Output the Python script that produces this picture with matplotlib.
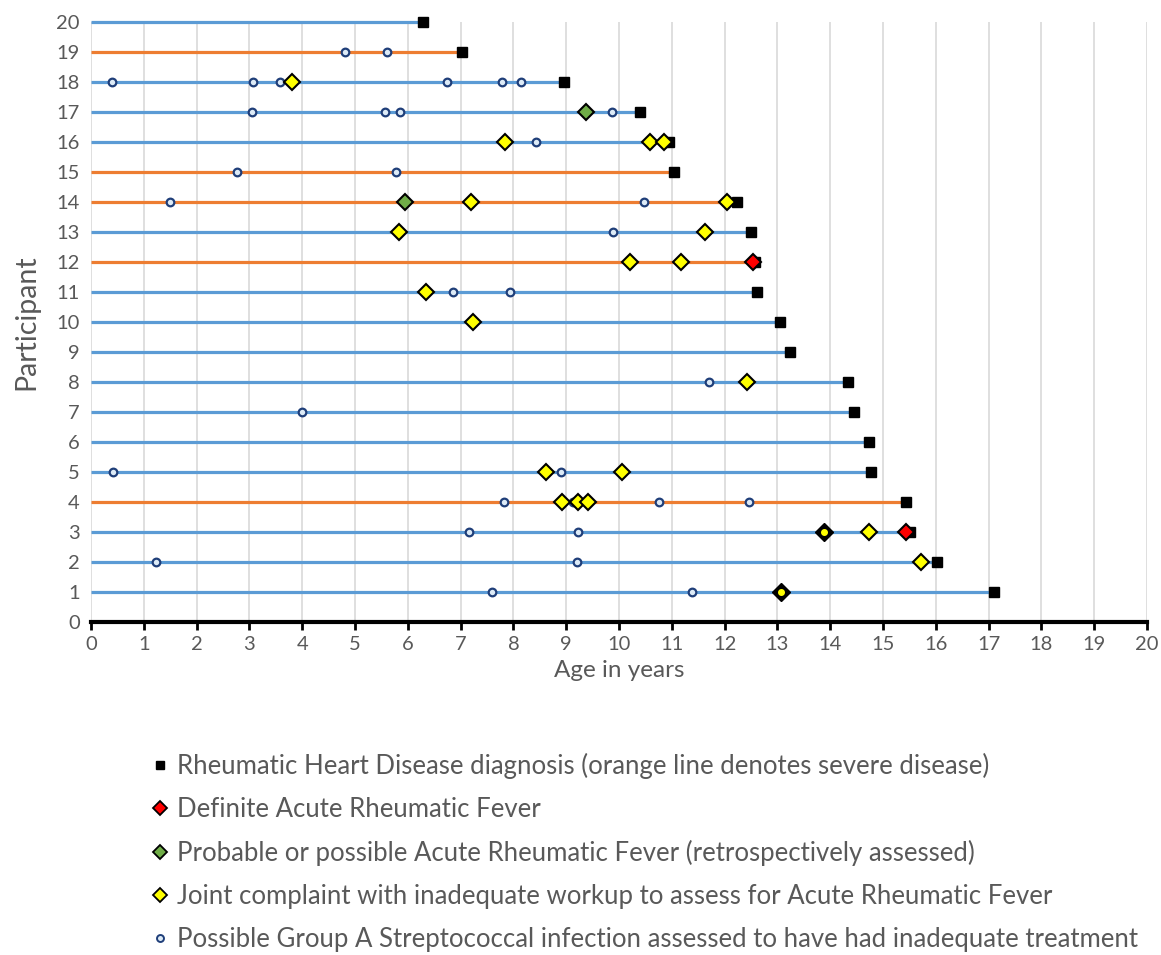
import matplotlib
matplotlib.use("Agg")
import matplotlib.pyplot as plt
from matplotlib.lines import Line2D

plt.rcParams['font.family'] = ['Lato', 'DejaVu Sans']

# participant number and age (years) at Rheumatic Heart Disease diagnosis
participants = list(range(1, 21))
rhd_age = [17.11, 16.03, 15.51, 15.44, 14.77, 14.73, 14.45, 14.33, 13.24, 13.04,
           12.61, 12.58, 12.50, 12.24, 11.04, 10.95, 10.40, 8.96, 7.03, 6.29]
# participants with severe disease (orange line)
severe = [4, 12, 14, 15, 19]

# definite acute rheumatic fever
arf_p = [3, 12]
arf_age = [15.44, 12.53]

# probable / possible ARF
prob_p = [14, 17]
prob_age = [5.95, 9.37]

# joint complaint with inadequate workup
joint_p = [18, 16, 16, 16, 14, 14, 13, 13, 12, 12, 11, 10, 8, 5, 5, 4, 4, 4, 3, 2]
joint_age = [3.81, 7.85, 10.59, 10.86, 7.20, 12.04, 5.84, 11.63, 10.20, 11.17,
             6.34, 7.24, 12.42, 8.61, 10.06, 8.92, 9.22, 9.42, 14.74, 15.72]
# joint complaints drawn over another marker (dark diamond with yellow centre)
joint_ov_p = [3, 1]
joint_ov_age = [13.89, 13.06]

# possible GAS infection with inadequate treatment
gas_p = [19, 19, 18, 18, 18, 18, 18, 18, 17, 17, 17, 17, 16, 15, 15, 14, 14, 13,
         11, 11, 8, 7, 5, 5, 4, 4, 4, 4, 3, 3, 2, 2, 1, 1]
gas_age = [4.81, 5.61, 0.40, 3.06, 3.58, 6.74, 7.78, 8.15, 3.05, 5.57, 5.85, 9.87,
           8.43, 2.76, 5.77, 1.49, 10.48, 9.89, 6.85, 7.94, 11.71, 4.00, 0.41, 8.90,
           7.83, 9.12, 10.76, 12.47, 7.16, 9.22, 1.23, 9.20, 7.59, 11.39]

legend_labels = [
    "Rheumatic Heart Disease diagnosis (orange line denotes severe disease)",
    "Definite Acute Rheumatic Fever",
    "Probable or possible Acute Rheumatic Fever (retrospectively assessed)",
    "Joint complaint with inadequate workup to assess for Acute Rheumatic Fever",
    "Possible Group A Streptococcal infection assessed to have had inadequate treatment",
]

blue = '#5B9BD5'
orange = '#ED7D31'
gray = '#595959'

fig = plt.figure(figsize=(11.61, 9.55), dpi=100)
ax = fig.add_axes([91 / 1161, 1 - 622 / 955, (1147 - 91) / 1161, 600 / 955])

# timeline for each participant
for p, a in zip(participants, rhd_age):
    c = orange if p in severe else blue
    ax.plot([0, a], [p, p], color=c, lw=2.3, solid_capstyle='butt', zorder=2)

ax.plot(rhd_age, participants, 's', color='black', ms=7, zorder=3, ls='none')
ax.plot(gas_age, gas_p, 'o', mfc='#DDEBF7', mec='#1F3E79', mew=1.6, ms=5.5, ls='none', zorder=4)
ax.plot(joint_ov_age, joint_ov_p, 'D', mfc='black', mec='black', ms=9, ls='none', zorder=5)
ax.plot(joint_ov_age, joint_ov_p, 'o', mfc='#FFFF00', mec='#FFFF00', ms=4, ls='none', zorder=6)
ax.plot(joint_age, joint_p, 'D', mfc='#FFFF00', mec='black', mew=1.5, ms=8.5, ls='none', zorder=5)
ax.plot(prob_age, prob_p, 'D', mfc='#70AD47', mec='black', mew=1.5, ms=8.5, ls='none', zorder=5)
ax.plot(arf_age, arf_p, 'D', mfc='#FF0000', mec='black', mew=1.5, ms=8.5, ls='none', zorder=6)

ax.set_xlim(0, 20)
ax.set_ylim(0, 20)
ax.set_xticks(range(0, 21))
ax.set_yticks(range(0, 21))
ax.tick_params(axis='x', direction='out', length=6, width=2, color='black',
               labelsize=14.5, labelcolor=gray, pad=4)
ax.tick_params(axis='y', length=0, labelsize=14.5, labelcolor=gray, pad=8)
for s in ['top', 'right', 'left']:
    ax.spines[s].set_visible(False)
ax.spines['bottom'].set_linewidth(3)
ax.spines['bottom'].set_zorder(7)
ax.xaxis.grid(True, color='#D9D9D9', lw=1.2, zorder=0)
ax.set_axisbelow(True)
for art in ax.lines:
    art.set_clip_on(False)

ax.set_xlabel("Age in years", fontsize=17.5, color=gray, labelpad=5)
ax.set_ylabel("Participant", fontsize=20.5, color=gray, labelpad=12)

handles = [
    Line2D([], [], marker='s', color='black', ls='none', ms=6),
    Line2D([], [], marker='D', mfc='#FF0000', mec='black', mew=1.3, ls='none', ms=7),
    Line2D([], [], marker='D', mfc='#70AD47', mec='black', mew=1.3, ls='none', ms=7),
    Line2D([], [], marker='D', mfc='#FFFF00', mec='black', mew=1.3, ls='none', ms=7),
    Line2D([], [], marker='o', mfc='#DDEBF7', mec='#1F3E79', mew=1.4, ls='none', ms=5),
]
leg = fig.legend(handles, legend_labels, loc='upper left',
                 bbox_to_anchor=(153 / 1161, 1 - 753 / 955), frameon=False,
                 fontsize=18.5, labelspacing=0.7, handlelength=0.55, handletextpad=0.4,
                 borderpad=0, borderaxespad=0)
for t in leg.get_texts():
    t.set_color(gray)

fig.savefig("out.png", dpi=100)
